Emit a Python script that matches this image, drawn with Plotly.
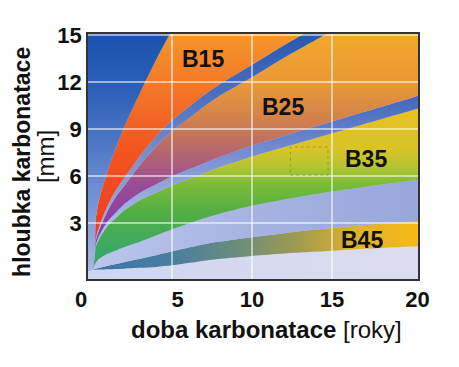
import plotly.graph_objects as go

# ---- data ----
t = [-0.5, 0, 0.25, 0.5, 1, 1.5, 2, 3, 4, 5, 6, 7, 8, 10, 12, 14, 16, 18, 20, 21]

b45_lower = [0, 0, 0.02, 0.03, 0.05, 0.07, 0.09, 0.14, 0.2, 0.3, 0.45, 0.6, 0.72, 0.9, 1.05, 1.18, 1.3, 1.41, 1.5, 1.53]
b45_upper = [0, 0, 0.08, 0.15, 0.27, 0.38, 0.5, 0.72, 0.95, 1.2, 1.43, 1.65, 1.82, 2.1, 2.35, 2.58, 2.78, 2.95, 3.1, 3.15]
b35_lower = [0, 0, 0.5, 0.75, 1.05, 1.25, 1.45, 1.8, 2.2, 2.6, 2.95, 3.3, 3.6, 4.1, 4.5, 4.85, 5.15, 5.45, 5.7, 5.8]
s2_lower = [0, 0, 1.53, 2.1, 2.85, 3.32, 3.8, 4.46, 4.93, 5.41, 5.79, 6.18, 6.57, 7.25, 7.84, 8.43, 9.02, 9.61, 10.2, 10.5]
s2_upper = [0, 0, 1.67, 2.3, 3.15, 3.68, 4.2, 4.94, 5.47, 5.99, 6.41, 6.82, 7.23, 7.95, 8.56, 9.17, 9.78, 10.39, 11.0, 11.3]
s1_lower = [0, 0, 1.92, 2.68, 3.82, 4.68, 5.35, 6.7, 7.87, 8.85, 9.63, 10.43, 11.13, 12.3, 13.55, 14.7, 15.8, 16.8, 17.6, 18.0]
s1_upper = [0, 0, 2.08, 2.92, 4.18, 5.12, 5.85, 7.3, 8.53, 9.55, 10.37, 11.17, 11.87, 13.1, 14.35, 15.5, 16.6, 17.6, 18.4, 18.8]
b15_upper = [0, 0, 3.4, 4.7, 6.4, 7.8, 9.1, 11.3, 13.4, 15.3, 17.0, 18.2, 19.4, 20, 20, 20, 20, 20, 20, 20]

floor_level = -1
ceiling_level = 21

x_ticks = [0, 5, 10, 15, 20]
x_tick_text = ["0\u2002\u2002", "\u20025", "10", "15", "\u200220"]
y_ticks = [3, 6, 9, 12, 15]

labels = ["B15", "B25", "B35", "B45"]
label_t = [6.94, 11.94, 17.1, 16.9]
label_y = [13.46, 10.4, 7.08, 1.9]

x_title = "<b>doba karbonatace</b> [roky]"
y_title = "<b>hloubka karbonatace</b>"
y_unit = "[mm]"

# ---- styles ----
FONT = "Liberation Sans, Arial, sans-serif"

regions = [
    # (upper boundary, gradient type, start, stop, colorscale)
    (b45_lower, "horizontal", 0, 20, [[0, "#cfd6f0"], [1, "#dcdcef"]]),
    (b45_upper, "horizontal", 0, 20, [[0, "#3a74a8"], [0.25, "#4a7ea0"], [0.45, "#6a8c7c"],
                                      [0.65, "#a09c50"], [0.82, "#dcb22e"], [1, "#f6b818"]]),
    (b35_lower, "horizontal", 0, 20, [[0, "#bcc6ec"], [0.5, "#a6b3e2"], [1, "#98a8da"]]),
    (s2_lower, "vertical", 1, 10, [[0, "#38a868"], [0.3, "#52ae44"], [0.5, "#7cbc38"],
                                   [0.62, "#b4c430"], [0.75, "#d8c428"], [1, "#eac020"]]),
    (s2_upper, "vertical", 2, 11, [[0, "#b4c0e8"], [0.4, "#90a2da"], [0.7, "#6a84cc"], [1, "#4368c0"]]),
    (s1_lower, "vertical", 2, 15, [[0, "#7c3eaa"], [0.25, "#984a98"], [0.42, "#b46670"],
                                   [0.58, "#d0804c"], [0.75, "#e89838"], [1, "#f2a82a"]]),
    (s1_upper, "vertical", 2, 15, [[0, "#aab2de"], [0.35, "#8494ce"], [0.7, "#4c70c0"], [1, "#2858b0"]]),
    (b15_upper, "vertical", 2, 15, [[0, "#f03c20"], [0.45, "#f25620"], [0.7, "#f37226"], [1, "#f4962c"]]),
    ([ceiling_level] * len(t), "vertical", 0, 15, [[0, "#a8b8e4"], [0.3, "#7592d6"], [0.55, "#4c76c6"],
                                                  [0.75, "#2e62ba"], [1, "#1a52ad"]]),
]

fig = go.Figure()
fig.add_trace(go.Scatter(x=t, y=[floor_level] * len(t), mode="lines",
                         line=dict(width=0), hoverinfo="skip", showlegend=False))
for upper, gtype, start, stop, cs in regions:
    fig.add_trace(go.Scatter(
        x=t, y=upper, mode="lines", line=dict(width=0, shape="spline", smoothing=0.8),
        fill="tonexty",
        fillgradient=dict(type=gtype, start=start, stop=stop, colorscale=cs),
        hoverinfo="skip", showlegend=False))

# grid lines drawn above the coloured bands
gx, gy = [], []
for v in x_ticks[1:-1]:
    gx += [v, v, None]
    gy += [floor_level, ceiling_level, None]
for v in y_ticks:
    gx += [-1, 22, None]
    gy += [v, v, None]
fig.add_trace(go.Scatter(x=gx, y=gy, mode="lines",
                         line=dict(color="rgba(255,255,255,0.55)", width=2),
                         hoverinfo="skip", showlegend=False))

for txt, lx, ly in zip(labels, label_t, label_y):
    fig.add_annotation(x=lx, y=ly, text=f"<b>{txt}</b>", showarrow=False,
                       font=dict(family=FONT, size=23, color="#111111"))

fig.add_shape(type="rect", x0=12.4, x1=14.75, y0=6.06, y1=7.85,
              line=dict(color="rgba(130,120,50,0.55)", width=1, dash="dot"))

# axis titles
fig.add_annotation(xref="paper", yref="paper", x=0.542, y=-0.208, text=x_title,
                   showarrow=False, xanchor="center", yanchor="middle",
                   font=dict(family=FONT, size=24, color="#111111"))
fig.add_annotation(xref="paper", yref="paper", x=-0.2, y=0.478, text=y_title,
                   textangle=-90, showarrow=False, xanchor="center", yanchor="middle",
                   borderpad=0,
                   font=dict(family=FONT, size=23, color="#111111"))
fig.add_annotation(xref="paper", yref="paper", x=-0.127, y=0.498, text=y_unit,
                   textangle=-90, showarrow=False, xanchor="center", yanchor="middle",
                   font=dict(family=FONT, size=24, color="#111111"))

# the page body adds an 8 px offset, so the figure is sized/margined to compensate
fig.update_layout(
    width=451, height=359,
    margin=dict(l=80, r=41, t=26, b=88),
    paper_bgcolor="white", plot_bgcolor="#c8cce8",
    font=dict(family=FONT, color="#111111"),
    xaxis=dict(range=[-0.25, 20.375], tickvals=x_ticks, ticktext=x_tick_text,
               showgrid=False, zeroline=False,
               showline=True, linecolor="#333333", linewidth=1.5, mirror=True, ticks="",
               tickfont=dict(family=FONT, size=22, weight=700, color="#111111"),
               layer="above traces"),
    yaxis=dict(range=[-0.57, 15.06], tickvals=y_ticks, showgrid=False, zeroline=False,
               showline=True, linecolor="#333333", linewidth=1.5, mirror=True, ticks="",
               tickfont=dict(family=FONT, size=22, weight=700, color="#111111"),
               layer="above traces"),
)

fig.write_html("out.html")
